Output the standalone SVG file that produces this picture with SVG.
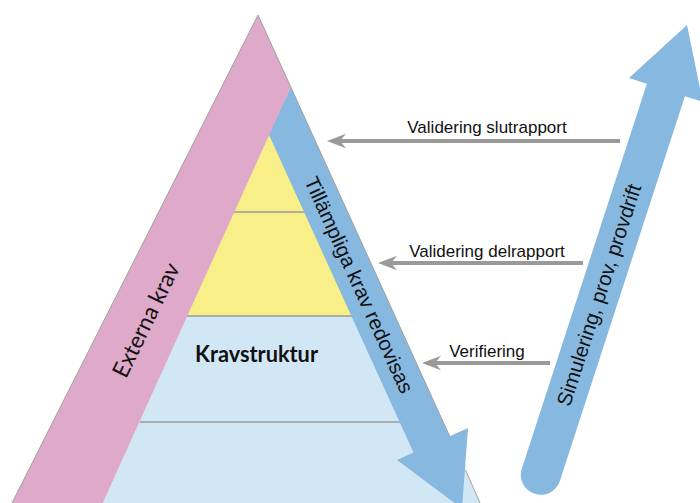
<svg xmlns="http://www.w3.org/2000/svg" width="700" height="503" viewBox="0 0 700 503">
  <style>
    .lbl { font-family: "Liberation Sans", Arial, sans-serif; font-size: 17px; fill: #111; text-anchor: middle; }
    .rot { font-family: "Liberation Sans", Arial, sans-serif; font-size: 20.5px; fill: #111; text-anchor: middle; }
    .cal { font-family: Lato, "Open Sans", "Liberation Sans", sans-serif; fill: #111; text-anchor: middle; }
    .sep { stroke: #9a9a9a; stroke-width: 1.4; fill: none; }
    .conn { stroke: #9a9a9a; stroke-width: 4; fill: none; }
  </style>
  <defs>
    <marker id="ah" markerUnits="userSpaceOnUse" viewBox="0 0 20 16" markerWidth="20" markerHeight="16" refX="6" refY="8" orient="auto">
      <path d="M19,8 L0,0.8 L6,8 L0,15.2 Z" fill="#9a9a9a"/>
    </marker>
  </defs>
  <rect width="700" height="503" fill="#ffffff"/>

  <g id="kravstruktur">
    <polygon points="187,316 395,316 480,503 102.8,503" fill="#d2e7f6"/>
    <polygon points="268.7,134.3 395,316 187,316" fill="#f8ef88"/>
    <line class="sep" x1="233" y1="212" x2="312" y2="212"/>
    <line class="sep" x1="187" y1="316" x2="356" y2="316"/>
    <line class="sep" x1="140" y1="422" x2="400" y2="422"/>
    <text class="cal" x="256.5" y="362" font-size="22" font-weight="bold" textLength="123" lengthAdjust="spacingAndGlyphs">Kravstruktur</text>
  </g>

  <g id="tillampliga-krav">
    <polygon points="290.8,87 449.7,436.3 468,428 462,508.6 397,460 413.5,452.6 268.7,134.3" fill="#87b8df"/>
    <text class="rot" transform="translate(359,285) rotate(65.6)" y="7">Tillämpliga krav redovisas</text>
  </g>

  <g id="externa-krav">
    <polygon points="258,15 290.8,87 102.8,503 12,503" fill="#dfa9c9"/>
    <text class="cal" transform="translate(146,320) rotate(-64)" y="8" font-size="23" textLength="124" lengthAdjust="spacingAndGlyphs">Externa krav</text>
  </g>

  <g id="pyramid-outline">
    <path d="M12,503 L258,15 L449.7,436.3 M465.4,469.7 L480,503" fill="none" stroke="#a0a0a0" stroke-width="1"/>
  </g>

  <g id="simulering">
    <path transform="translate(687,25) rotate(18)" d="M0,0 L38.8,68.3 L20,68.3 L20,473 A20,20 0 0 1 -20,473 L-20,68.3 L-38.8,68.3 Z" fill="#87b8df"/>
    <text class="rot" transform="translate(599,295) rotate(-72)" y="7">Simulering, prov, provdrift</text>
  </g>

  <g id="connectors">
    <line class="conn" x1="620" y1="141" x2="340" y2="141" marker-end="url(#ah)"/>
    <line class="conn" x1="583" y1="263" x2="391" y2="263" marker-end="url(#ah)"/>
    <line class="conn" x1="550" y1="363" x2="435" y2="363" marker-end="url(#ah)"/>
  </g>

  <g id="labels">
    <text class="lbl" x="487" y="133">Validering slutrapport</text>
    <text class="lbl" x="487" y="257">Validering delrapport</text>
    <text class="lbl" x="487" y="357">Verifiering</text>
  </g>
</svg>
